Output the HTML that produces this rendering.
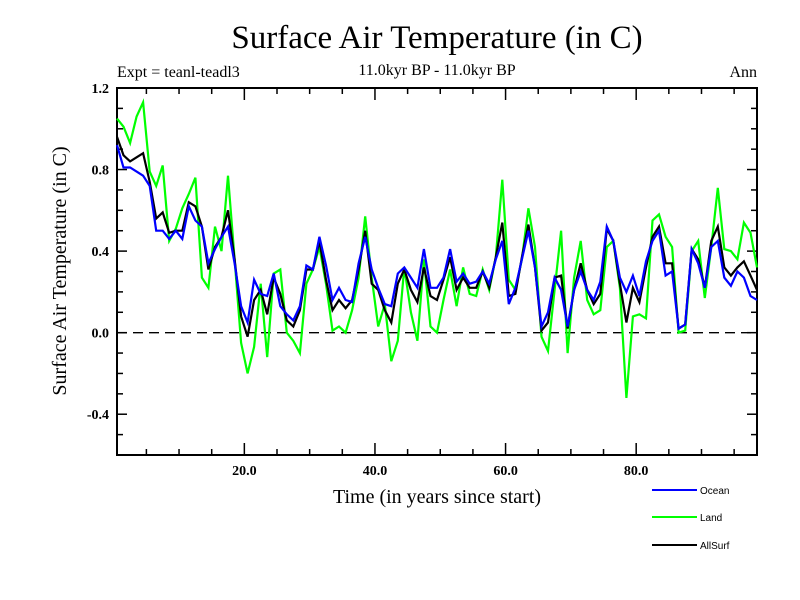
<!DOCTYPE html>
<html><head><meta charset="utf-8"><style>
body{margin:0;background:#fff;}
svg{display:block;}
</style></head><body>
<svg id="chart" width="800" height="600" xmlns="http://www.w3.org/2000/svg">
<text x="437" y="48" text-anchor="middle" font-family="Liberation Serif, serif" font-size="33">Surface Air Temperature (in C)</text>
<text x="117" y="77" font-family="Liberation Serif, serif" font-size="16">Expt = teanl-teadl3</text>
<text x="437" y="75" text-anchor="middle" font-family="Liberation Serif, serif" font-size="16">11.0kyr BP - 11.0kyr BP</text>
<text x="757" y="77" text-anchor="end" font-family="Liberation Serif, serif" font-size="16">Ann</text>
<text transform="translate(66,271) rotate(-90)" text-anchor="middle" font-family="Liberation Serif, serif" font-size="20">Surface Air Temperature (in C)</text>
<text x="437" y="503" text-anchor="middle" font-family="Liberation Serif, serif" font-size="20">Time (in years since start)</text>
<g id="axes"></g>
<g id="series"></g>
<g>
<line x1="652" y1="490" x2="697" y2="490" stroke="#0000ff" stroke-width="2"/>
<text x="700" y="494" font-family="Liberation Sans, sans-serif" font-size="10">Ocean</text>
<line x1="652" y1="517" x2="697" y2="517" stroke="#00ff00" stroke-width="2"/>
<text x="700" y="521" font-family="Liberation Sans, sans-serif" font-size="10">Land</text>
<line x1="652" y1="545" x2="697" y2="545" stroke="#000" stroke-width="2"/>
<text x="700" y="549" font-family="Liberation Sans, sans-serif" font-size="10">AllSurf</text>
</g>
</svg>
<script>
const land=[1.05,1.01,0.93,1.06,1.13,0.79,0.72,0.82,0.45,0.51,0.61,0.68,0.76,0.27,0.22,0.52,0.40,0.77,0.36,-0.05,-0.20,-0.07,0.24,-0.12,0.29,0.31,0.00,-0.04,-0.10,0.24,0.31,0.42,0.24,0.01,0.03,0.00,0.11,0.27,0.57,0.27,0.03,0.14,-0.14,-0.04,0.32,0.10,-0.04,0.36,0.03,0.00,0.16,0.31,0.13,0.32,0.19,0.18,0.31,0.21,0.37,0.75,0.26,0.21,0.36,0.61,0.42,-0.02,-0.09,0.21,0.50,-0.10,0.27,0.45,0.16,0.09,0.11,0.42,0.45,0.22,-0.32,0.08,0.09,0.07,0.55,0.58,0.47,0.42,0.00,0.01,0.40,0.45,0.17,0.42,0.71,0.41,0.40,0.36,0.54,0.49,0.32];
const allsurf=[0.96,0.87,0.84,0.86,0.88,0.74,0.56,0.59,0.49,0.50,0.50,0.64,0.62,0.52,0.31,0.42,0.47,0.60,0.36,0.08,-0.02,0.16,0.21,0.09,0.27,0.19,0.06,0.03,0.11,0.31,0.31,0.45,0.26,0.11,0.16,0.12,0.16,0.31,0.50,0.24,0.21,0.11,0.05,0.24,0.31,0.21,0.15,0.32,0.18,0.16,0.26,0.37,0.21,0.27,0.22,0.22,0.30,0.22,0.37,0.54,0.18,0.19,0.37,0.53,0.32,0.01,0.05,0.27,0.28,0.02,0.21,0.34,0.21,0.14,0.19,0.51,0.45,0.24,0.05,0.22,0.15,0.32,0.47,0.52,0.34,0.34,0.02,0.04,0.41,0.36,0.22,0.45,0.52,0.32,0.28,0.32,0.35,0.28,0.21];
const ocean=[0.92,0.81,0.81,0.79,0.77,0.72,0.50,0.50,0.46,0.50,0.46,0.62,0.55,0.52,0.34,0.41,0.47,0.52,0.34,0.13,0.05,0.26,0.19,0.18,0.29,0.13,0.09,0.06,0.13,0.33,0.31,0.47,0.33,0.16,0.22,0.16,0.15,0.34,0.47,0.31,0.22,0.14,0.13,0.29,0.32,0.27,0.22,0.41,0.22,0.22,0.27,0.41,0.25,0.29,0.24,0.25,0.30,0.24,0.36,0.45,0.14,0.22,0.36,0.50,0.32,0.03,0.10,0.27,0.21,0.03,0.21,0.30,0.21,0.16,0.25,0.52,0.45,0.27,0.20,0.28,0.18,0.35,0.45,0.50,0.28,0.30,0.02,0.04,0.41,0.34,0.22,0.42,0.45,0.27,0.23,0.30,0.27,0.18,0.16];
const yTickLabels=["1.2","0.8","0.4","0.0","-0.4"];
const yTickValues=[1.2,0.8,0.4,0.0,-0.4];
const xTickLabels=["20.0","40.0","60.0","80.0"];
const xTickValues=[20,40,60,80];
const xMin=0.5,xMax=98.5,yMin=-0.6,yMax=1.2;
const L=117,R=757,T=88,B=455;
function sx(v){return L+(v-xMin)/(xMax-xMin)*(R-L);}
function sy(v){return B-(v-yMin)/(yMax-yMin)*(B-T);}
const NS="http://www.w3.org/2000/svg";
const axes=document.getElementById('axes');
const series=document.getElementById('series');
function mk(tag,attrs,parent){const e=document.createElementNS(NS,tag);for(const k in attrs)e.setAttribute(k,attrs[k]);parent.appendChild(e);return e;}
const frame=mk('rect',{x:L,y:T,width:R-L,height:B-T,fill:'none',stroke:'#000','stroke-width':2},axes);


const zero=mk('line',{x1:L,x2:R,y1:sy(0),y2:sy(0),stroke:'#000','stroke-width':1.3,'stroke-dasharray':'10,6'},axes);


for(let k=-6;k<=12;k++){const v=k/10;const y=sy(v);const major=(k%4===0);const len=major?10:6;
 const t1=mk('line',{x1:L,x2:L+len,y1:y,y2:y,stroke:'#000','stroke-width':1.5},axes);
 
 
 const t2=mk('line',{x1:R,x2:R-len,y1:y,y2:y,stroke:'#000','stroke-width':1.5},axes);
 
 }
yTickValues.forEach((v,i)=>{const t=mk('text',{x:L-8,y:sy(v)+5,'text-anchor':'end','font-family':'Liberation Serif, serif','font-size':14,'font-weight':'bold'},axes);t.textContent=yTickLabels[i];
 
 });
for(let v=5;v<=95;v+=5){const x=sx(v);const major=(v%20===0);const len=major?12:6;
 const t1=mk('line',{x1:x,x2:x,y1:B,y2:B-len,stroke:'#000','stroke-width':1.5},axes);
 
 
 const t2=mk('line',{x1:x,x2:x,y1:T,y2:T+len,stroke:'#000','stroke-width':1.5},axes);
 
 }
xTickValues.forEach((v,i)=>{const t=mk('text',{x:sx(v),y:B+20,'text-anchor':'middle','font-family':'Liberation Serif, serif','font-size':14,'font-weight':'bold'},axes);t.textContent=xTickLabels[i];
 
 });
function drawLine(arr,color,name){const pts=arr.map((v,i)=>sx(0.5+i).toFixed(1)+','+sy(v).toFixed(1)).join(' ');
 const p=mk('polyline',{points:pts,fill:'none',stroke:color,'stroke-width':2.2,'stroke-linejoin':'miter'},series);
 
 }
drawLine(land,'#00ff00','land-line');
drawLine(allsurf,'#000000','allsurf-line');
drawLine(ocean,'#0000ff','ocean-line');
</script>
</body></html>
